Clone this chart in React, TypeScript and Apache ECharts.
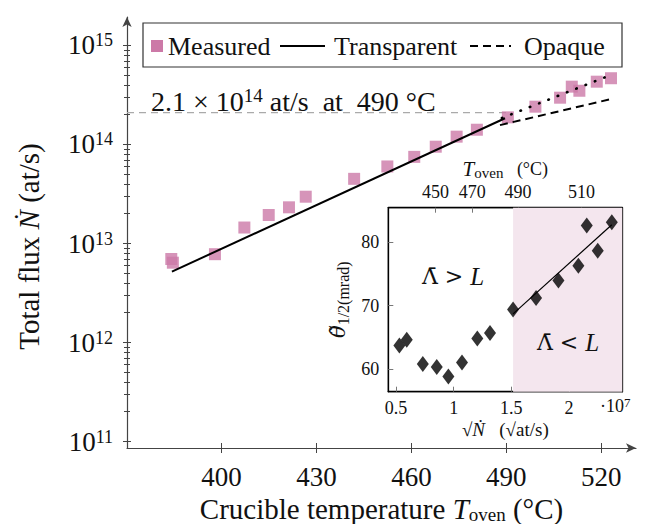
import React, { useEffect, useRef } from "react";
import * as echarts from "echarts";

// ---------- data ----------
const measuredTemp = [384.1, 384.6, 397.9, 407.2, 414.9, 421.3, 426.6, 441.9, 452.4, 460.9, 467.7, 474.3, 480.7, 490.5, 499.2, 507.0, 510.7, 513.1, 518.6, 523.1];
const measuredFlux = [6.97e12, 6.4e12, 7.8e12, 1.45e13, 1.94e13, 2.32e13, 2.97e13, 4.5e13, 6.0e13, 7.5e13, 9.5e13, 1.2e14, 1.41e14, 1.88e14, 2.41e14, 2.97e14, 3.84e14, 3.49e14, 4.31e14, 4.67e14];
const transparentTemp = [384.3, 489.6];
const transparentFlux = [5.2e12, 1.84e14];
const opaqueTemp = [488, 522.8];
const opaqueFlux = [1.57e14, 2.86e14];
const dottedTemp = [488.6, 522.8];
const dottedFlux = [1.85e14, 5.0e14];
const refTemp = [370.1, 490];
const refFlux = [2.1e14, 2.1e14];

const xTicks = [400, 430, 460, 490, 520];
const yDecades = [1e11, 1e12, 1e13, 1e14, 1e15];
const minorDecades = [1e11, 1e12, 1e13, 1e14];
const minorMultipliers = [2, 3, 4, 5, 6, 7, 8, 9];

const insetSqrtN = [0.529, 0.593, 0.732, 0.853, 0.954, 1.072, 1.205, 1.315, 1.515, 1.714, 1.908, 2.081, 2.154, 2.249, 2.371];
const insetTheta = [63.7, 64.6, 60.8, 60.3, 58.8, 61.0, 64.8, 65.7, 69.4, 71.2, 74.0, 76.3, 82.7, 78.7, 83.2];
const insetFitX = [1.515, 2.371];
const insetFitY = [68.7, 82.8];
const insetXTicks = [0.5, 1, 1.5, 2];
const insetYTicks = [60, 70, 80];
const topTickPos = [0.843, 1.16, 1.558, 2.109];
const topTickTemps = [450, 470, 490, 510];
const shadeRange = [1.515, 2.462];

// ---------- style ----------
const FONT = '"Liberation Serif", "Times New Roman", serif';
const GREEK = '"DejaVu Serif", "Liberation Serif", serif';
const PINK = "#CC79A7";
const AX = "#444";
const TXT = "#111";

const pair = (xs: number[], ys: number[]) => xs.map((x, i) => [x, ys[i]]);
const minorTicks = minorDecades.flatMap((d) => minorMultipliers.map((m) => m * d));

const X_MIN = 370.1, X_MAX = 531.0;
const Y_MIN = 8.6e10, Y_MAX = 1.94e15;
const IX_MIN = 0.433, IX_MAX = 2.462;
const IY_MIN = 56.4, IY_MAX = 85.5;

function buildOption(): any {
  const hidden = { show: false };
  const mainX = (inner: boolean, labels: boolean) => ({
    gridIndex: 0,
    type: "value",
    min: X_MIN,
    max: X_MAX,
    position: "bottom",
    axisLine: labels
      ? { show: true, onZero: false, symbol: ["none", "arrow"], symbolSize: [7, 10], lineStyle: { color: AX, width: 1.2 } }
      : { show: false, onZero: false },
    axisTick: { show: true, inside: inner, length: 5, customValues: xTicks, lineStyle: { color: AX, width: 1 } },
    axisLabel: labels
      ? { show: true, customValues: xTicks, fontFamily: FONT, fontSize: 27, color: TXT, margin: 15 }
      : hidden,
    splitLine: hidden,
    ...(labels
      ? {
          name: "{a|Crucible temperature }{i|T}{sub|oven}{a| (°C)}",
          nameLocation: "middle",
          nameGap: 35,
          nameTextStyle: {
            rich: {
              a: { fontFamily: FONT, fontSize: 29, color: TXT, lineHeight: 30 },
              i: { fontFamily: FONT, fontSize: 29, fontStyle: "italic", color: TXT, lineHeight: 30 },
              sub: { fontFamily: FONT, fontSize: 19, color: TXT, lineHeight: 19, verticalAlign: "bottom" },
            },
          },
        }
      : {}),
  });

  const mainY = (inner: boolean, labels: boolean, ticks: number[], len: number) => ({
    gridIndex: 0,
    type: "log",
    logBase: 10,
    min: Y_MIN,
    max: Y_MAX,
    position: "left",
    offset: 0,
    axisLine: labels
      ? { show: true, onZero: false, symbol: ["none", "arrow"], symbolSize: [7, 10], lineStyle: { color: AX, width: 1.2 } }
      : { show: false, onZero: false },
    axisTick: { show: true, inside: inner, length: len, customValues: ticks, lineStyle: { color: AX, width: 1 } },
    axisLabel: labels
      ? {
          show: true,
          customValues: yDecades,
          margin: 14,
          formatter: (v: number) => `{b|10}{s|${Math.round(Math.log10(v))}}`,
          rich: {
            b: { fontFamily: FONT, fontSize: 27, color: TXT, lineHeight: 28 },
            s: { fontFamily: FONT, fontSize: 18, color: TXT, lineHeight: 18, verticalAlign: "top" },
          },
        }
      : hidden,
    splitLine: hidden,
    minorTick: hidden,
    ...(labels
      ? {
          name: "{a|Total flux }{i|Ṅ}{a| (at/s)}",
          nameLocation: "middle",
          nameRotate: 90,
          nameGap: 84,
          nameTextStyle: {
            padding: [0, 28, 0, 0],
            rich: {
              a: { fontFamily: FONT, fontSize: 29, color: TXT },
              i: { fontFamily: FONT, fontSize: 29, fontStyle: "italic", color: TXT },
            },
          },
        }
      : {}),
  });

  const insetTick = { show: true, inside: true, length: 5, lineStyle: { color: "#777", width: 1 } };
  const insetLabel = { fontFamily: FONT, fontSize: 18, color: TXT };
  const insetLine = { show: true, onZero: false, lineStyle: { color: "#000", width: 1.3 } };

  return {
    animation: false,
    backgroundColor: "#fff",
    grid: [
      { left: 127, right: 26, top: 17, bottom: 76, containLabel: false, outerBoundsMode: "none" },
      {
        left: 388.3,
        right: 39.7,
        top: 207.7,
        bottom: 132.3,
        show: true,
        backgroundColor: "#fff",
        borderColor: "#000",
        borderWidth: 1.3,
        containLabel: false,
        outerBoundsMode: "none",
      },
    ],
    xAxis: [
      mainX(false, true),
      mainX(true, false),
      {
        gridIndex: 1,
        type: "value",
        min: IX_MIN,
        max: IX_MAX,
        position: "bottom",
        axisLine: insetLine,
        axisTick: { ...insetTick, customValues: insetXTicks },
        axisLabel: { ...insetLabel, customValues: insetXTicks, margin: 7, formatter: (v: number) => String(v) },
        splitLine: hidden,
        name: "{r|√}{i|Ṅ}{r|   (√at/s)}",
        nameLocation: "middle",
        nameGap: 28,
        nameTextStyle: {
          rich: {
            r: { fontFamily: FONT, fontSize: 19, color: TXT },
            i: { fontFamily: FONT, fontSize: 19, fontStyle: "italic", color: TXT },
          },
        },
      },
      {
        gridIndex: 1,
        type: "value",
        min: IX_MIN,
        max: IX_MAX,
        position: "top",
        axisLine: insetLine,
        axisTick: { ...insetTick, customValues: topTickPos },
        axisLabel: {
          ...insetLabel,
          customValues: topTickPos,
          margin: 7,
          formatter: (v: number) => {
            let best = 0;
            topTickPos.forEach((p, i) => {
              if (Math.abs(p - v) < Math.abs(topTickPos[best] - v)) best = i;
            });
            return String(topTickTemps[best]);
          },
        },
        splitLine: hidden,
        name: "{i|T}{sub|oven}{r|   (°C)}",
        nameLocation: "middle",
        nameGap: 27,
        nameTextStyle: {
          rich: {
            r: { fontFamily: FONT, fontSize: 18, color: TXT, lineHeight: 24 },
            i: { fontFamily: FONT, fontSize: 21, fontStyle: "italic", color: TXT, lineHeight: 24 },
            sub: { fontFamily: FONT, fontSize: 15, color: TXT, lineHeight: 15, verticalAlign: "bottom" },
          },
        },
      },
    ],
    yAxis: [
      mainY(false, true, yDecades, 4),
      mainY(true, false, yDecades, 4),
      mainY(false, false, minorTicks, 3),
      mainY(true, false, minorTicks, 3),
      {
        gridIndex: 1,
        type: "value",
        min: IY_MIN,
        max: IY_MAX,
        position: "left",
        axisLine: insetLine,
        axisTick: { ...insetTick, customValues: insetYTicks },
        axisLabel: { ...insetLabel, customValues: insetYTicks, margin: 9 },
        splitLine: hidden,
        name: "{i|θ̃}{sub|1/2}{s|(mrad)}",
        nameLocation: "middle",
        nameRotate: 90,
        nameGap: 37,
        nameTextStyle: {
          rich: {
            i: { fontFamily: GREEK, fontSize: 21, fontStyle: "italic", color: TXT, lineHeight: 26 },
            sub: { fontFamily: FONT, fontSize: 16, color: TXT, lineHeight: 16, verticalAlign: "bottom" },
            s: { fontFamily: FONT, fontSize: 16, color: TXT, lineHeight: 16, verticalAlign: "bottom" },
          },
        },
      },
      {
        gridIndex: 1,
        type: "value",
        min: IY_MIN,
        max: IY_MAX,
        position: "right",
        axisLine: insetLine,
        axisTick: hidden,
        axisLabel: hidden,
        splitLine: hidden,
      },
    ],
    series: [
      {
        type: "line",
        name: "Reference",
        xAxisIndex: 0,
        yAxisIndex: 0,
        data: pair(refTemp, refFlux),
        symbol: "none",
        lineStyle: { color: "#aaa", width: 1.3, type: [7, 5] },
        z: 1,
      },
      {
        type: "scatter",
        name: "Measured",
        xAxisIndex: 0,
        yAxisIndex: 0,
        data: pair(measuredTemp, measuredFlux),
        symbol: "rect",
        symbolSize: 12,
        itemStyle: { color: PINK },
        z: 2,
      },
      {
        type: "line",
        name: "Transparent",
        xAxisIndex: 0,
        yAxisIndex: 0,
        data: pair(transparentTemp, transparentFlux),
        symbol: "none",
        lineStyle: { color: "#000", width: 2 },
        z: 3,
      },
      {
        type: "line",
        name: "Opaque",
        xAxisIndex: 0,
        yAxisIndex: 0,
        data: pair(opaqueTemp, opaqueFlux),
        symbol: "none",
        lineStyle: { color: "#000", width: 2, type: [8, 5] },
        z: 3,
      },
      {
        type: "line",
        name: "Fit",
        xAxisIndex: 0,
        yAxisIndex: 0,
        data: pair(dottedTemp, dottedFlux),
        symbol: "none",
        lineStyle: { color: "#000", width: 2.6, type: [0.5, 9.5], cap: "round" },
        z: 3,
      },
      {
        type: "scatter",
        name: "Divergence",
        xAxisIndex: 2,
        yAxisIndex: 4,
        data: pair(insetSqrtN, insetTheta),
        symbol: "diamond",
        symbolSize: [12, 16],
        itemStyle: { color: "#000" },
        z: 3,
        markArea: {
          silent: true,
          itemStyle: { color: "#f4e6ee" },
          data: [[{ xAxis: shadeRange[0] }, { xAxis: shadeRange[1] }]],
        },
      },
      {
        type: "line",
        name: "DivergenceFit",
        xAxisIndex: 2,
        yAxisIndex: 4,
        data: pair(insetFitX, insetFitY),
        symbol: "none",
        lineStyle: { color: "#000", width: 1.2 },
        z: 2,
      },
    ],
    graphic: [
      // legend box
      { type: "rect", z: 10, shape: { x: 143, y: 23, width: 479, height: 44 }, style: { fill: "#fff", stroke: "#333", lineWidth: 1.2 } },
      { type: "rect", z: 11, shape: { x: 151, y: 40, width: 12, height: 12 }, style: { fill: PINK } },
      { type: "text", z: 11, x: 168, y: 46, style: { text: "Measured", font: `26px ${FONT}`, fill: TXT, verticalAlign: "middle" } },
      { type: "line", z: 11, shape: { x1: 280, y1: 46, x2: 325, y2: 46 }, style: { stroke: "#000", lineWidth: 2 } },
      { type: "text", z: 11, x: 334, y: 46, style: { text: "Transparent", font: `26px ${FONT}`, fill: TXT, verticalAlign: "middle" } },
      { type: "line", z: 11, shape: { x1: 470, y1: 46, x2: 511, y2: 46 }, style: { stroke: "#000", lineWidth: 2, lineDash: [8, 5] } },
      { type: "text", z: 11, x: 524, y: 46, style: { text: "Opaque", font: `26px ${FONT}`, fill: TXT, verticalAlign: "middle" } },
      // annotation
      {
        type: "text",
        z: 11,
        x: 151,
        y: 101,
        style: {
          text: "{n|2.1 × 10}{s|14}{n| at/s  at  490 °C}",
          verticalAlign: "middle",
          rich: {
            n: { fontFamily: FONT, fontSize: 28, fill: TXT, lineHeight: 31 },
            s: { fontFamily: FONT, fontSize: 19, fill: TXT, lineHeight: 19, verticalAlign: "top" },
          },
        },
      },
      // inset texts
      {
        type: "text",
        z: 11,
        x: 453,
        y: 276,
        style: {
          text: "{r|Λ̄ > }{i|L}",
          align: "center",
          verticalAlign: "middle",
          rich: {
            r: { fontFamily: GREEK, fontSize: 22, fill: TXT },
            i: { fontFamily: FONT, fontSize: 25, fontStyle: "italic", fill: TXT },
          },
        },
      },
      {
        type: "text",
        z: 11,
        x: 568,
        y: 342,
        style: {
          text: "{r|Λ̄ < }{i|L}",
          align: "center",
          verticalAlign: "middle",
          rich: {
            r: { fontFamily: GREEK, fontSize: 22, fill: TXT },
            i: { fontFamily: FONT, fontSize: 25, fontStyle: "italic", fill: TXT },
          },
        },
      },
      {
        type: "text",
        z: 11,
        x: 600,
        y: 406,
        style: {
          text: "{n|·10}{s|7}",
          verticalAlign: "middle",
          rich: {
            n: { fontFamily: FONT, fontSize: 18, fill: TXT, lineHeight: 21 },
            s: { fontFamily: FONT, fontSize: 13, fill: TXT, lineHeight: 13, verticalAlign: "top" },
          },
        },
      },
    ],
  };
}

export default function App() {
  const ref = useRef<HTMLDivElement>(null);
  useEffect(() => {
    document.body.style.margin = "0";
    const chart = echarts.init(ref.current!, null, { renderer: "svg" });
    chart.setOption(buildOption());
    return () => chart.dispose();
  }, []);
  return <div ref={ref} style={{ width: 662, height: 524 }} />;
}
